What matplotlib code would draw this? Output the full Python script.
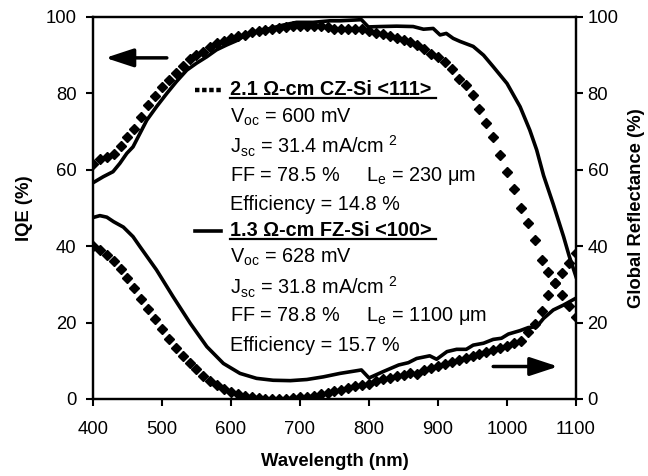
import numpy as np
import matplotlib
matplotlib.use("Agg")
import matplotlib.pyplot as plt

plt.rcParams['font.family'] = ['Liberation Sans', 'DejaVu Sans']
plt.rcParams['mathtext.fontset'] = 'custom'
plt.rcParams['mathtext.rm'] = 'Liberation Sans'
plt.rcParams['mathtext.it'] = 'Liberation Sans:italic'
plt.rcParams['mathtext.bf'] = 'Liberation Sans:bold'

# dotted series (CZ cell), one point every 10 nm
wl_cz = np.arange(400, 1101, 10)
iqe_cz = [61.5, 62.7, 63.4, 64.1, 66.2, 68.7, 70.8, 73.9, 77.0, 79.3,
          81.8, 83.5, 85.3, 87.2, 88.9, 90.0, 90.9, 92.1, 93.1, 93.8,
          94.6, 95.1, 95.4, 96.0, 96.4, 96.7, 96.9, 97.2, 97.5, 97.7,
          97.7, 97.7, 97.7, 97.7, 97.3, 96.9, 96.9, 96.9, 96.9, 96.9,
          96.3, 95.8, 95.5, 94.9, 94.4, 94.0, 93.4, 92.6, 91.6, 90.4,
          89.5, 88.2, 86.3, 83.8, 82.3, 79.5, 75.8, 72.2, 68.5, 63.8,
          59.4, 55.0, 50.0, 46.0, 41.6, 36.4, 33.2, 30.3, 27.1, 24.3,
          21.4]
refl_cz = [40.1, 39.0, 37.7, 36.1, 33.9, 31.6, 29.0, 26.2, 23.5, 20.9,
           18.2, 15.8, 13.4, 11.3, 9.5, 7.8, 6.1, 4.8, 3.7, 2.7,
           1.8, 1.2, 0.8, 0.5, 0.3, 0.1, 0.0, 0.0, 0.1, 0.2,
           0.4, 0.6, 0.9, 1.2, 1.6, 2.0, 2.4, 2.8, 3.3, 3.7,
           4.0, 4.6, 5.2, 5.5, 5.9, 6.4, 6.9, 6.5, 7.6, 8.1,
           8.6, 9.2, 9.7, 10.3, 10.8, 11.3, 11.8, 12.3, 12.9, 13.4,
           14.0, 14.6, 15.3, 17.6, 19.6, 23.0, 27.3, 30.3, 33.1, 35.7,
           38.1]

# solid series (FZ cell)
wl_iqe_fz = [400, 415, 429, 439, 449, 458, 468, 478, 492, 507, 521, 536, 550,
             565, 579, 594, 608, 618, 637, 657, 676, 695, 719, 743, 758, 789,
             799, 816, 840, 864, 879, 893, 903, 912, 922, 932, 951, 966, 980,
             1000, 1019, 1033, 1043, 1053, 1067, 1082, 1090, 1100]
iqe_fz = [56.6, 58.2, 59.5, 61.7, 64.3, 66.0, 69.5, 73.0, 76.5, 80.0, 83.1,
          86.1, 87.9, 89.6, 91.4, 92.7, 93.8, 94.9, 96.2, 97.0, 97.9, 98.6,
          98.6, 99.0, 99.0, 99.3, 97.4, 97.5, 97.6, 97.5, 96.8, 97.0, 95.3,
          95.7, 94.4, 93.6, 92.3, 90.0, 87.0, 82.6, 76.5, 70.4, 65.2, 58.5,
          51.0, 42.5, 37.5, 32.0]

wl_refl_fz = [400, 410, 420, 430, 444, 458, 468, 492, 516, 541, 565, 589, 613,
              637, 661, 686, 710, 734, 758, 789, 800, 821, 843, 857, 869, 888,
              898, 913, 927, 941, 951, 966, 980, 992, 1002, 1019, 1031, 1043,
              1053, 1067, 1082, 1100]
refl_fz = [47.5, 48.0, 47.6, 46.4, 45.0, 42.5, 39.9, 33.8, 26.8, 19.8, 13.7,
           9.3, 6.7, 5.4, 4.9, 4.8, 5.1, 5.8, 6.7, 7.6, 5.5, 7.2, 8.9, 9.5,
           10.6, 11.3, 10.4, 12.4, 13.0, 13.0, 14.1, 14.6, 15.6, 15.9, 17.0,
           17.9, 18.7, 18.9, 21.1, 23.3, 24.6, 26.4]

cz_lines = ["V$_\\mathregular{oc}$ = 600 mV",
            "J$_\\mathregular{sc}$ = 31.4 mA/cm $^\\mathregular{2}$",
            "FF = 78.5 %     L$_\\mathregular{e}$ = 230 \u03bcm",
            "Efficiency = 14.8 %"]
fz_lines = ["V$_\\mathregular{oc}$ = 628 mV",
            "J$_\\mathregular{sc}$ = 31.8 mA/cm $^\\mathregular{2}$",
            "FF = 78.8 %     L$_\\mathregular{e}$ = 1100 \u03bcm",
            "Efficiency = 15.7 %"]

fig = plt.figure(figsize=(6.48, 4.76), dpi=100)
ax = fig.add_axes([0.1435, 0.1618, 0.7454, 0.8025])
ax2 = ax.twinx()

ax.plot(wl_cz, iqe_cz, ls='none', marker='D', ms=4.6, color='black', mec='black')
ax.plot(wl_iqe_fz, iqe_fz, color='black', lw=2.6)
ax2.plot(wl_cz, refl_cz, ls='none', marker='D', ms=4.6, color='black', mec='black')
ax2.plot(wl_refl_fz, refl_fz, color='black', lw=2.6)

for a in (ax, ax2):
    a.set_xlim(400, 1100)
    a.set_ylim(0, 100)
    a.set_yticks(np.arange(0, 101, 20))
    for s in a.spines.values():
        s.set_linewidth(1.6)
    a.tick_params(direction='out', length=4.8, width=1.5, labelsize=13.3)
ax.set_xticks(np.arange(400, 1101, 100))
ax.tick_params(axis='x', pad=11)
ax.tick_params(axis='y', pad=7)
ax2.tick_params(axis='y', pad=3.5)

ax.set_xlabel('Wavelength (nm)', fontsize=13.3, fontweight='bold', labelpad=11)
ax.set_ylabel('IQE (%)', fontsize=13.3, fontweight='bold', labelpad=9)
ax2.set_ylabel('Global Reflectance (%)', fontsize=13.3, fontweight='bold', labelpad=7)

# arrows showing which axis each curve family belongs to
arr = dict(arrowstyle='-|>,head_length=0.85,head_width=0.28', lw=2.5,
           color='black', shrinkA=0, shrinkB=0, mutation_scale=20)
ax.annotate('', xy=(418, 89.3), xytext=(507, 89.3), arrowprops=arr)
ax.annotate('', xy=(1074, 8.5), xytext=(980, 8.5), arrowprops=arr)

# key samples
ax.plot([548, 586], [80.9, 80.9], ls=(0, (1, 0.6)), lw=3.2, color='black')
ax.plot([548, 586], [44.0, 44.0], lw=2.6, color='black')

tx = 598
fs = 14.3
h1 = ax.text(tx, 80.9, '2.1 \u03a9-cm CZ-Si <111>', fontsize=fs, fontweight='bold', va='center')
for s, y in zip(cz_lines, [73.8, 66.0, 58.4, 50.8]):
    ax.text(tx, y, s, fontsize=fs, va='center')
h2 = ax.text(tx, 44.0, '1.3 \u03a9-cm FZ-Si <100>', fontsize=fs, fontweight='bold', va='center')
for s, y in zip(fz_lines, [37.2, 29.3, 21.7, 14.1]):
    ax.text(tx, y, s, fontsize=fs, va='center')

# underline the two headings
fig.canvas.draw()
inv = ax.transData.inverted()
for t in (h1, h2):
    bb = t.get_window_extent()
    (x0, y0), (x1, _) = inv.transform([(bb.x0, bb.y0 + 1.5), (bb.x1 + 5, bb.y0 + 1.5)])
    ax.plot([x0, x1], [y0, y0], color='black', lw=1.6)

fig.savefig('out.png', dpi=100)
